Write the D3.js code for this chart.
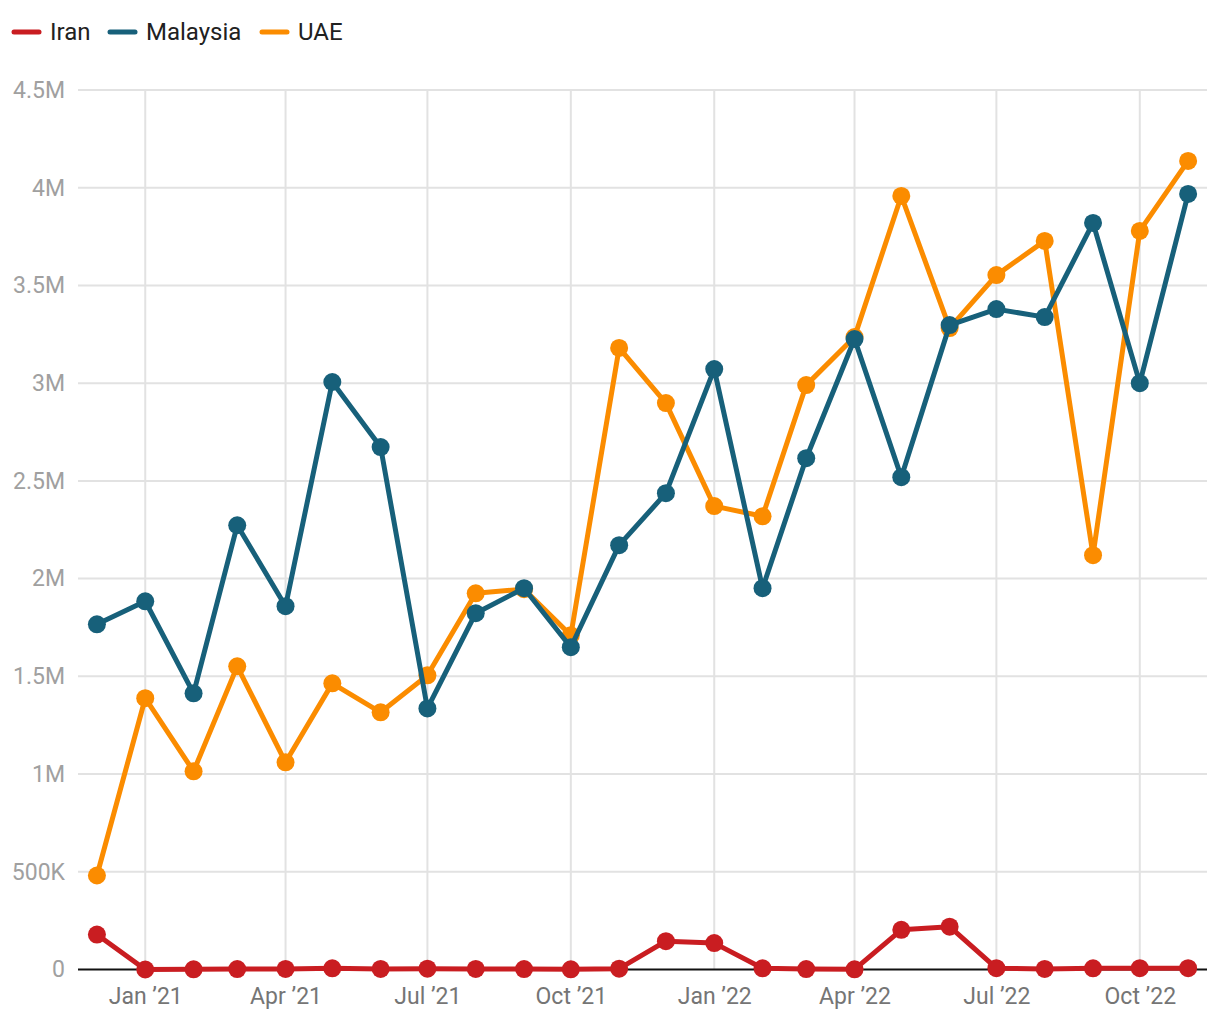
<!DOCTYPE html>
<html><head><meta charset="utf-8">
<script src="https://cdn.jsdelivr.net/npm/d3@7"></script>
<style>body{margin:0;background:#fff;font-family:Roboto,sans-serif}</style>
</head><body><svg id="c" width="1220" height="1020"></svg>
<script>
const months = ["2020-12","2021-01","2021-02","2021-03","2021-04","2021-05","2021-06","2021-07","2021-08","2021-09","2021-10","2021-11","2021-12","2022-01","2022-02","2022-03","2022-04","2022-05","2022-06","2022-07","2022-08","2022-09","2022-10","2022-11"];
const iran = [179000,0,1000,2000,3000,6000,3000,4000,3000,2000,1000,4000,145000,135000,6000,2000,1000,203000,219000,7000,3000,6000,7000,7000];
const malaysia = [1766000,1884000,1413000,2273000,1859000,3006000,2673000,1336000,1823000,1951000,1649000,2171000,2437000,3072000,1951000,2616000,3226000,2519000,3297000,3379000,3338000,3820000,3000000,3968000];
const uae = [481000,1388000,1014000,1551000,1060000,1464000,1316000,1505000,1925000,1946000,1710000,3180000,2898000,2371000,2319000,2990000,3236000,3958000,3282000,3553000,3728000,2120000,3779000,4137000];
const seriesNames = ["Iran","Malaysia","UAE"];
const seriesColors = ["#c91d21","#17607a","#fb8c00"];
const yTicks = [0,500000,1000000,1500000,2000000,2500000,3000000,3500000,4000000,4500000];
const yTickLabels = ["0","500K","1M","1.5M","2M","2.5M","3M","3.5M","4M","4.5M"];
const xTicks = ["2021-01","2021-04","2021-07","2021-10","2022-01","2022-04","2022-07","2022-10"];
const xTickLabels = ["Jan \u201921","Apr \u201921","Jul \u201921","Oct \u201921","Jan \u201922","Apr \u201922","Jul \u201922","Oct \u201922"];

const parse = d3.utcParse("%Y-%m");
const svg = d3.select("#c");
const x = d3.scaleUtc().domain([new Date(Date.UTC(2020,10,19,12)), new Date(Date.UTC(2022,10,13,18))]).range([79,1208]);
const y = d3.scaleLinear().domain([0,4500000]).range([969.5,90]);

// grid
const g = svg.append("g");
g.selectAll(".hg").data(yTicks.slice(1)).join("line")
  .attr("x1",78).attr("x2",1207).attr("y1",d=>y(d)).attr("y2",d=>y(d))
  .attr("stroke","#e2e2e2").attr("stroke-width",2);
g.selectAll(".vg").data(xTicks).join("line")
  .attr("x1",d=>x(parse(d))).attr("x2",d=>x(parse(d))).attr("y1",90).attr("y2",969)
  .attr("stroke","#e2e2e2").attr("stroke-width",2);

// y axis labels
const yAxis = d3.axisLeft(y).tickValues(yTicks).tickFormat((d,i)=>yTickLabels[i]).tickSize(0).tickPadding(13);
const ya = svg.append("g").attr("transform","translate(78,0)").call(yAxis);
ya.select(".domain").remove();
ya.selectAll("text").attr("font-family","Roboto").attr("font-size",23).attr("fill","#a0a0a0");

// x axis labels
const xAxis = d3.axisBottom(x).tickValues(xTicks.map(parse)).tickFormat((d,i)=>xTickLabels[i]).tickSize(0).tickPadding(18);
const xa = svg.append("g").attr("transform","translate(0,969.5)").call(xAxis);
xa.select(".domain").remove();
xa.selectAll("text").attr("font-family","Roboto").attr("font-size",23).attr("fill","#757575");

// baseline
svg.append("line").attr("x1",78).attr("x2",1207).attr("y1",y(0)).attr("y2",y(0)).attr("stroke","#111").attr("stroke-width",2);

const data = [iran, malaysia, uae];
const line = d3.line().x((d,i)=>x(parse(months[i]))).y(d=>y(d));
[2,1,0].forEach(s=>{
  const gs = svg.append("g");
  gs.append("path").datum(data[s]).attr("d",line).attr("fill","none")
    .attr("stroke",seriesColors[s]).attr("stroke-width",5).attr("stroke-linejoin","round");
  gs.selectAll("circle").data(data[s]).join("circle")
    .attr("cx",(d,i)=>x(parse(months[i]))).attr("cy",d=>y(d)).attr("r",9).attr("fill",seriesColors[s]);
});

// legend
const legX = [12,108,260];
const leg = svg.append("g");
seriesNames.forEach((n,i)=>{
  leg.append("line").attr("x1",legX[i]+2).attr("x2",legX[i]+27).attr("y1",32).attr("y2",32)
    .attr("stroke",seriesColors[i]).attr("stroke-width",5).attr("stroke-linecap","round");
  leg.append("text").attr("x",legX[i]+38).attr("y",40).text(n)
    .attr("font-family","Roboto").attr("font-size",24).attr("fill","#212121");
});
</script></body></html>
